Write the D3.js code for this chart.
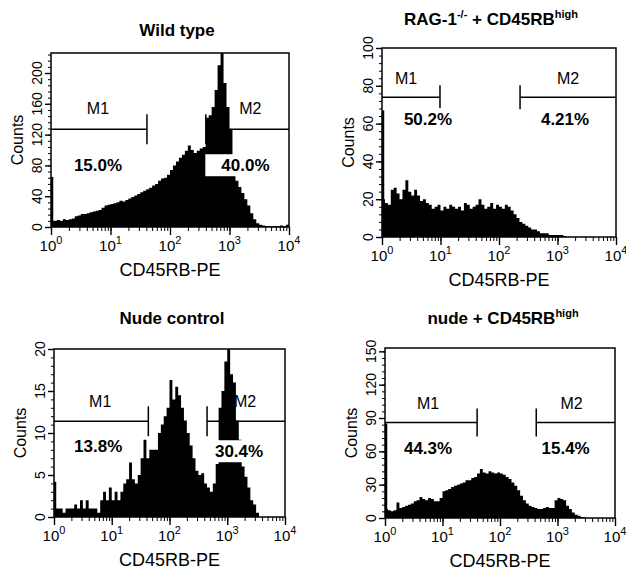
<!DOCTYPE html>
<html>
<head>
<meta charset="utf-8">
<script src="https://cdn.jsdelivr.net/npm/d3@7/dist/d3.min.js"></script>
<style>
body{margin:0;background:#fff;}
svg{font-family:"Liberation Sans",Arial,Helvetica,sans-serif;}
</style>
</head>
<body>
<svg width="626" height="574"></svg>
<script>
// counts per channel, 80 channels = 20 per decade from 10^0 to 10^4
var wildCounts = [8,8,9,8,10,9,10,11,14,15,
  17,17,18,19,20,21,22,25,28,29,
  30,31,32,34,33,35,37,39,41,43,
  45,47,49,51,54,56,60,63,64,68,
  74,80,85,90,94,99,106,100,96,99,
  102,104,142,145,156,178,210,230,187,156,
  126,90,60,52,44,36,28,18,10,5,
  3,2,1,1,1,1,1,2,1,3];
var ragCounts = [20,18,17,25,26,23,20,25,30,24,
  22,25,22,19,20,18,17,15,16,17,
  14,16,15,17,16,15,16,14,18,17,
  15,16,17,20,17,15,16,18,15,17,
  16,15,17,16,14,12,10,8,7,6,
  5,4,4,3,2,2,2,1,1,1,
  1,1,0.5,0,0,0,0,0,0,0,
  0,0,0,0,0,0,0,0,0,0];
var nudeCounts = [1,1,1,0.5,1,1,1,1.5,1,2,
  1,2,1,1,1,0.5,2,3,2,3.5,
  2,3,2,3,4,4.5,6.5,4.5,4,5,
  7,9.2,7,8,8,8,10,11,12,13,
  16.3,14,15.5,14.5,13,11.5,10,8.5,7,5.5,
  5,5.2,4,3.5,3,4,6.3,13,15,18.5,
  20,17,16,11.5,9.2,6,4.8,3.5,2,1.5,
  0.5,0,0,0,0,0,0,0,0,0];
var nudeHighCounts = [8,7,6,7,14,9,10,11,12,13,
  15,16,19,17,16,18,17,15,15,18,
  24,25,26,28,29,30,31,32,34,34,
  36,37,40,44,41,40,42,41,40,41,
  40,39,37,35,32,29,25,20,16,13,
  11,10,9,8,8,9,10,9,9,16,
  18,17,16,11,8,5,3,2,1,0.5,
  0,0,0,0,0,0,0,0,0,0];

// first channel (pile-up at 10^0)
var firstChannel = [65, 67, 4.2, 85];

var yTicksWild = [0, 40, 80, 120, 160, 200];
var yTicksRag = [0, 20, 40, 60, 80, 100];
var yTicksNude = [0, 5, 10, 15, 20];
var yTicksNudeHigh = [0, 30, 60, 90, 120, 150];
var xTicks = [1, 10, 100, 1000, 10000];

// marker gates M1, M2 (channel values) and marker level (counts)
var gatesWild = [[1, 41], [400, 10000]];
var gatesRag = [[1, 9.8], [229, 10000]];
var gatesNude = [[1, 43], [447, 10000]];
var gatesNudeHigh = [[1, 40], [427, 10000]];
var markerLevels = [127, 74, 11.4, 86];

var pctWild = ["15.0%", "40.0%"];
var pctRag = ["50.2%", "4.21%"];
var pctNude = ["13.8%", "30.4%"];
var pctNudeHigh = ["44.3%", "15.4%"];

var titles = [
  [["Wild type", 0]],
  [["RAG-1", 0], ["-/-", 1], [" + CD45RB", 0], ["high", 1]],
  [["Nude control", 0]],
  [["nude + CD45RB", 0], ["high", 1]]
];

var panels = [
  {counts: wildCounts, yTicks: yTicksWild, gates: gatesWild, pct: pctWild, yMax: 226,
   left: 51, right: 289, top: 53, bottom: 227, titleX: 177, titleY: 36,
   mUp: 15, half: 15, pctDown: [42, 42], mDx: [-1, 3], pctDx: [-1, -2], extraL: [0, 13]},
  {counts: ragCounts, yTicks: yTicksRag, gates: gatesRag, pct: pctRag, yMax: 100,
   left: 382, right: 616, top: 48, bottom: 237, titleX: 491, titleY: 25,
   mUp: 13, half: 12, pctDown: [28, 28], mDx: [-5, 0], pctDx: [17, -3], extraL: [0, 0]},
  {counts: nudeCounts, yTicks: yTicksNude, gates: gatesNude, pct: pctNude, yMax: 20,
   left: 54, right: 285, top: 349, bottom: 517, titleX: 172, titleY: 324,
   mUp: 14, half: 15, pctDown: [31, 36], mDx: [-1, -1], pctDx: [-3, -7], extraL: [0, 0]},
  {counts: nudeHighCounts, yTicks: yTicksNudeHigh, gates: gatesNudeHigh, pct: pctNudeHigh, yMax: 153,
   left: 385, right: 615, top: 348, bottom: 518, titleX: 503, titleY: 324,
   mUp: 13, half: 14, pctDown: [32, 32], mDx: [-3, -4], pctDx: [-3, -10], extraL: [0, 0]}
];

var svg = d3.select("svg");
var edges = d3.range(81).map(function(i) { return Math.pow(10, i / 20); });

panels.forEach(function(p, n) {
  var x = d3.scaleLog().domain([1, 10000]).range([p.left, p.right]);
  var y = d3.scaleLinear().domain([0, p.yMax]).range([p.bottom, p.top]);
  var g = svg.append("g");

  g.append("clipPath").attr("id", "clip" + n).append("rect")
    .attr("x", p.left).attr("y", p.top)
    .attr("width", p.right - p.left).attr("height", p.bottom - p.top);

  // title with superscripts
  var t = g.append("text").attr("x", p.titleX).attr("y", p.titleY)
    .attr("text-anchor", "middle").style("font-weight", "bold").style("font-size", "17px");
  var cur = 0;
  titles[n].forEach(function(part) {
    var target = part[1] ? -7 : 0;
    t.append("tspan").attr("dy", target - cur)
      .style("font-size", part[1] ? "11px" : "17px").text(part[0]);
    cur = target;
  });

  // y axis: minor and major ticks
  var step = p.yTicks[1] - p.yTicks[0];
  g.append("g").attr("transform", "translate(" + p.left + ",0)")
    .call(d3.axisLeft(y).tickValues(d3.range(0, p.yMax, step / 5)).tickSize(3).tickFormat(""))
    .call(function(a) { a.select(".domain").remove(); });
  g.append("g").attr("transform", "translate(" + p.left + ",0)")
    .call(d3.axisLeft(y).tickValues(p.yTicks).tickSize(6).tickFormat(""))
    .call(function(a) { a.select(".domain").remove(); a.selectAll("line").attr("stroke-width", 1.4); });
  g.selectAll(".ylab").data(p.yTicks).enter().append("text")
    .attr("transform", function(d) { return "translate(" + (p.left - 9) + "," + y(d) + ") rotate(-90)"; })
    .attr("text-anchor", "middle").style("font-size", "14px")
    .text(function(d) { return d; });
  g.append("text")
    .attr("transform", "translate(" + (p.left - 28) + "," + ((p.top + p.bottom) / 2) + ") rotate(-90)")
    .attr("text-anchor", "middle").style("font-size", "16px").text("Counts");

  // x axis: minor ticks inside each decade, major at decades
  g.append("g").attr("transform", "translate(0," + p.bottom + ")")
    .call(d3.axisBottom(x).tickValues(x.ticks()).tickSize(4).tickFormat(""))
    .call(function(a) { a.select(".domain").remove(); });
  g.append("g").attr("transform", "translate(0," + p.bottom + ")")
    .call(d3.axisBottom(x).tickValues(xTicks).tickSize(8).tickFormat(""))
    .call(function(a) { a.select(".domain").remove(); a.selectAll("line").attr("stroke-width", 1.4); });
  var lab = g.selectAll(".xlab").data(xTicks).enter().append("text")
    .attr("x", function(d) { return x(d); }).attr("y", p.bottom + 24)
    .attr("text-anchor", "middle").style("font-size", "15px");
  lab.append("tspan").text("10");
  lab.append("tspan").attr("dy", -7).style("font-size", "11px")
    .text(function(d) { return Math.round(Math.log10(d)); });
  g.append("text").attr("x", (p.left + p.right) / 2).attr("y", p.bottom + 49)
    .attr("text-anchor", "middle").style("font-size", "18px").text("CD45RB-PE");

  // markers M1 / M2
  var ly = y(markerLevels[n]);
  p.gates.forEach(function(gt, k) {
    var x0 = x(gt[0]), x1 = x(gt[1]);
    var tx = k === 0 ? x1 : x0;
    g.append("line").attr("x1", x0).attr("x2", x1).attr("y1", ly).attr("y2", ly)
      .attr("stroke", "#000").attr("stroke-width", 1.5);
    g.append("line").attr("x1", tx).attr("x2", tx).attr("y1", ly - p.half).attr("y2", ly + p.half)
      .attr("stroke", "#000").attr("stroke-width", 1.5);
    g.append("text").attr("x", (x0 + x1) / 2 + p.mDx[k]).attr("y", ly - p.mUp)
      .attr("text-anchor", "middle").style("font-size", "16px").text("M" + (k + 1));
  });

  // histogram
  var pts = p.counts.map(function(c, i) { return [edges[i], c]; });
  pts.push([edges[80], p.counts[79]]);
  var area = d3.area().curve(d3.curveStepAfter)
    .x(function(d) { return x(d[0]); })
    .y0(y(0))
    .y1(function(d) { return y(d[1]); });
  var hg = g.append("g").attr("clip-path", "url(#clip" + n + ")");
  hg.append("path").datum(pts).attr("d", area).attr("fill", "#000");
  hg.append("line").attr("x1", x(1) + 1).attr("x2", x(1) + 1)
    .attr("y1", y(0)).attr("y2", y(firstChannel[n]))
    .attr("stroke", "#000").attr("stroke-width", 2.5);

  // percentages with white knock-out box
  p.pct.forEach(function(s, k) {
    var gt = p.gates[k];
    var cx = (x(gt[0]) + x(gt[1])) / 2 + p.pctDx[k];
    var txt = g.append("text").attr("x", cx).attr("y", ly + p.pctDown[k])
      .attr("text-anchor", "middle").style("font-size", "17px").style("font-weight", "bold").text(s);
    var bb = txt.node().getBBox();
    g.insert("rect", function() { return txt.node(); })
      .attr("x", bb.x - 3 - p.extraL[k]).attr("y", bb.y - 2)
      .attr("width", bb.width + 6 + p.extraL[k]).attr("height", bb.height + 3)
      .attr("fill", "#fff");
  });

  // frame
  g.append("rect").attr("x", p.left).attr("y", p.top)
    .attr("width", p.right - p.left).attr("height", p.bottom - p.top)
    .attr("fill", "none").attr("stroke", "#000").attr("stroke-width", 1.5);
});
</script>
</body>
</html>
